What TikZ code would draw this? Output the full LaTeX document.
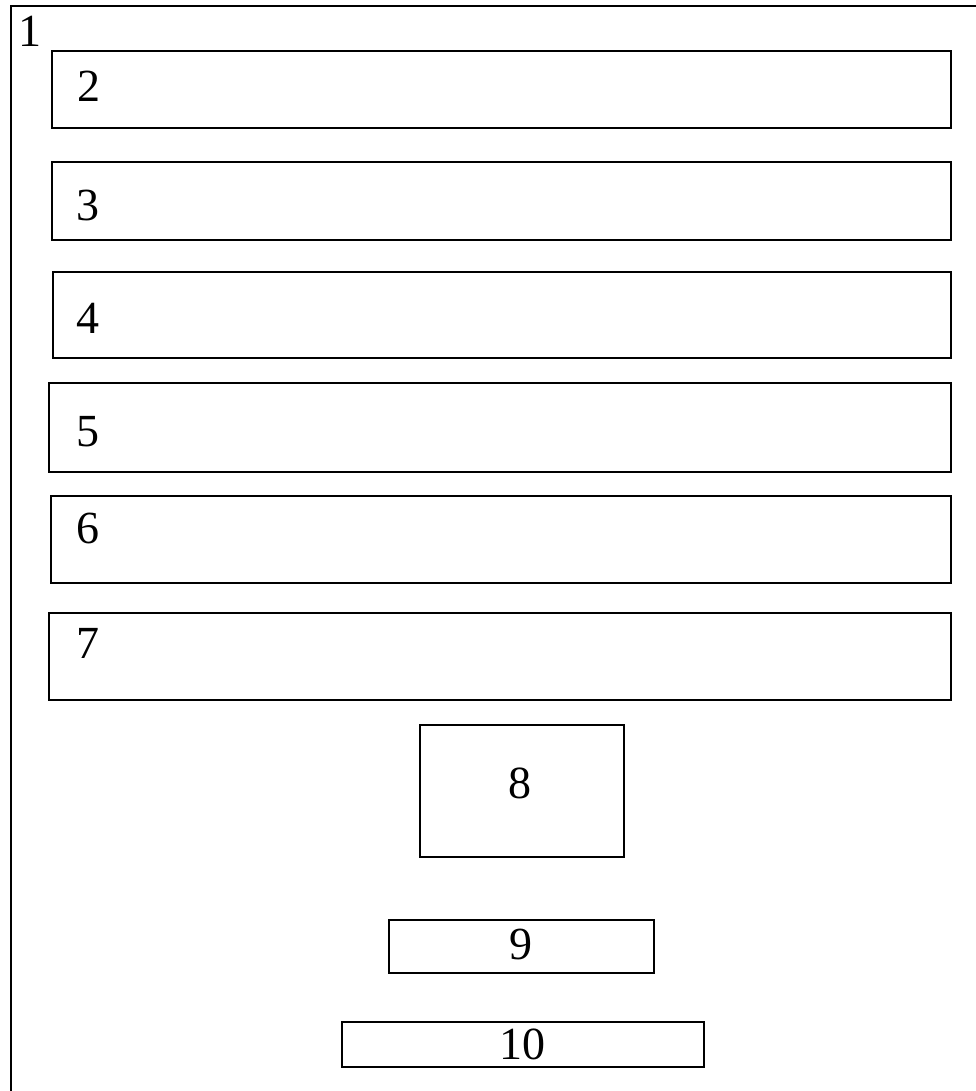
\documentclass[tikz,border=0pt]{standalone}
\usepackage{fontspec}
\setmainfont{Liberation Serif}
\begin{document}
\begin{tikzpicture}[x=1pt,y=-1pt,
  box/.style={draw=black,line width=2pt,inner sep=0pt,anchor=north west},
  lbl/.style={inner sep=0pt,font=\fontsize{46}{52}\selectfont}]
\useasboundingbox (0,0) rectangle (976,1091);
\draw[line width=2pt] (11,1095) -- (11,6) -- (980,6);
\node[box,minimum width=899pt,minimum height=77pt] (b2) at (51,50) {};
\node[box,minimum width=899pt,minimum height=78pt] (b3) at (51,161) {};
\node[box,minimum width=898pt,minimum height=86pt] (b4) at (52,271) {};
\node[box,minimum width=902pt,minimum height=89pt] (b5) at (48,382) {};
\node[box,minimum width=900pt,minimum height=87pt] (b6) at (50,495) {};
\node[box,minimum width=902pt,minimum height=87pt] (b7) at (48,612) {};
\node[box,minimum width=204pt,minimum height=132pt] (b8) at (419,724) {};
\node[box,minimum width=265pt,minimum height=53pt] (b9) at (388,919) {};
\node[box,minimum width=362pt,minimum height=45pt] (b10) at (341,1021) {};
\node[lbl] (t1) at (30,31) {1};
\node[lbl] (t2) at (89,86) {2};
\node[lbl] (t3) at (88,205) {3};
\node[lbl] (t4) at (88,318) {4};
\node[lbl] (t5) at (88,432) {5};
\node[lbl] (t6) at (88,528) {6};
\node[lbl] (t7) at (88,643) {7};
\node[lbl] (t8) at (520,783) {8};
\node[lbl] (t9) at (521,944) {9};
\node[lbl] (t10) at (522,1044) {10};
\end{tikzpicture}
\end{document}
